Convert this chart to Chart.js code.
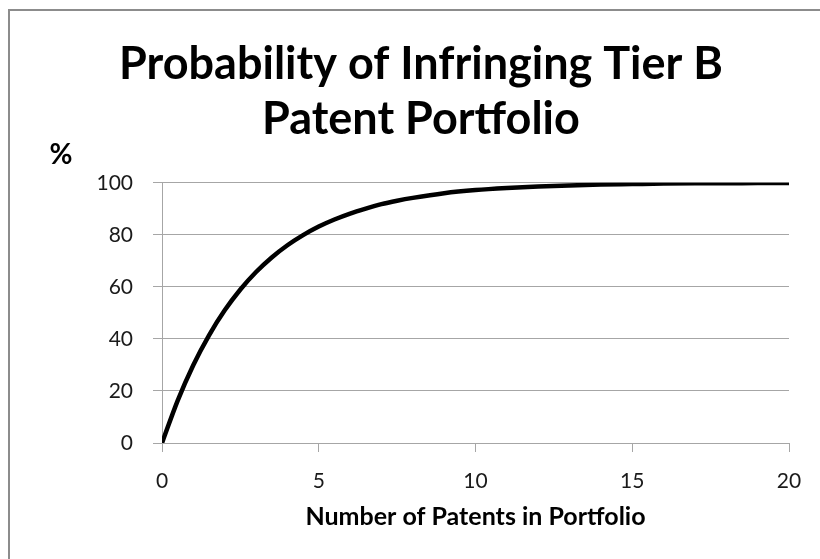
<!DOCTYPE html>
<html>
<head>
<meta charset="utf-8">
<script src="https://cdn.jsdelivr.net/npm/chart.js@4.4.1/dist/chart.umd.min.js"></script>
<style>
  html, body { margin: 0; padding: 0; background: #fff; overflow: hidden; }
  #wrap { position: relative; width: 820px; height: 559px; }
  #frame { position: absolute; left: 8px; top: 9px; width: 900px; height: 700px;
           border: 2px solid #8c8c8c; pointer-events: none; }
  canvas { position: absolute; left: 0; top: 0; }
</style>
</head>
<body>
<div id="wrap">
  <canvas id="probChart" width="820" height="559"></canvas>
  <div id="frame"></div>
</div>
<script>
// number of patents in portfolio
const patentCounts = [0, 0.5, 1, 1.5, 2, 2.5, 3, 3.5, 4, 4.5, 5, 5.5, 6, 6.5, 7, 7.5, 8, 9, 10, 11, 12, 13, 14, 15, 16, 17, 18, 19, 20];
// probability of infringing (%)
const infringeProb = [0, 16.3, 30, 41.4, 51, 59, 65.7, 71.3, 76, 79.9, 83.2, 85.9, 88.2, 90.1, 91.8, 93.1, 94.2, 96, 97.2, 98, 98.6, 99, 99.3, 99.5, 99.7, 99.8, 99.8, 99.9, 99.9];

const titleLines = ['Probability of Infringing Tier B', 'Patent Portfolio'];
const xTitle = 'Number of Patents in Portfolio';
const yUnit = '%';

const FONT = 'Lato';
const gridGrey = '#a6a6a6';

const unitLabel = {
    id: 'unitLabel',
    afterDraw(chart) {
        const ctx = chart.ctx;
        const area = chart.chartArea;
        ctx.save();
        ctx.font = `bold 28px ${FONT}`;
        ctx.fillStyle = '#000';
        ctx.textAlign = 'center';
        ctx.textBaseline = 'middle';
        ctx.fillText(yUnit, area.left - 101, area.top - 28);
        ctx.restore();
    }
};

const ctx = document.getElementById('probChart').getContext('2d');

new Chart(ctx, {
    type: 'line',
    data: {
        datasets: [{
            label: 'Probability',
            data: patentCounts.map((x, i) => ({x: x, y: infringeProb[i]})),
            borderColor: '#000',
            borderWidth: 4.5,
            pointRadius: 0,
            fill: false,
            cubicInterpolationMode: 'monotone'
        }]
    },
    options: {
        responsive: false,
        animation: false,
        layout: {
            padding: {left: 53, right: 31, top: 0, bottom: 0}
        },
        plugins: {
            legend: {display: false},
            tooltip: {enabled: false},
            title: {
                display: true,
                text: titleLines,
                color: '#000',
                font: {family: FONT, size: 45, weight: 'bold', lineHeight: 1.22},
                padding: {top: 37, bottom: 36}
            }
        },
        scales: {
            x: {
                type: 'linear',
                min: 0,
                max: 20,
                ticks: {
                    stepSize: 5,
                    color: '#1a1a1a',
                    font: {family: FONT, size: 21},
                    padding: 17
                },
                grid: {
                    display: true,
                    drawOnChartArea: false,
                    drawTicks: true,
                    tickLength: 9,
                    color: gridGrey
                },
                border: {color: gridGrey, width: 1},
                title: {
                    display: true,
                    text: xTitle,
                    color: '#000',
                    font: {family: FONT, size: 25, weight: 'bold'},
                    padding: {top: 10, bottom: 27}
                },
                afterFit(scale) {
                    scale.height = 116;
                }
            },
            y: {
                min: 0,
                max: 100,
                ticks: {
                    stepSize: 20,
                    color: '#1a1a1a',
                    font: {family: FONT, size: 21},
                    padding: 20
                },
                grid: {
                    color: gridGrey,
                    tickLength: 9
                },
                border: {color: gridGrey, width: 1},
                afterFit(scale) {
                    scale.width = 109;
                }
            }
        }
    },
    plugins: [unitLabel]
});
</script>
</body>
</html>
